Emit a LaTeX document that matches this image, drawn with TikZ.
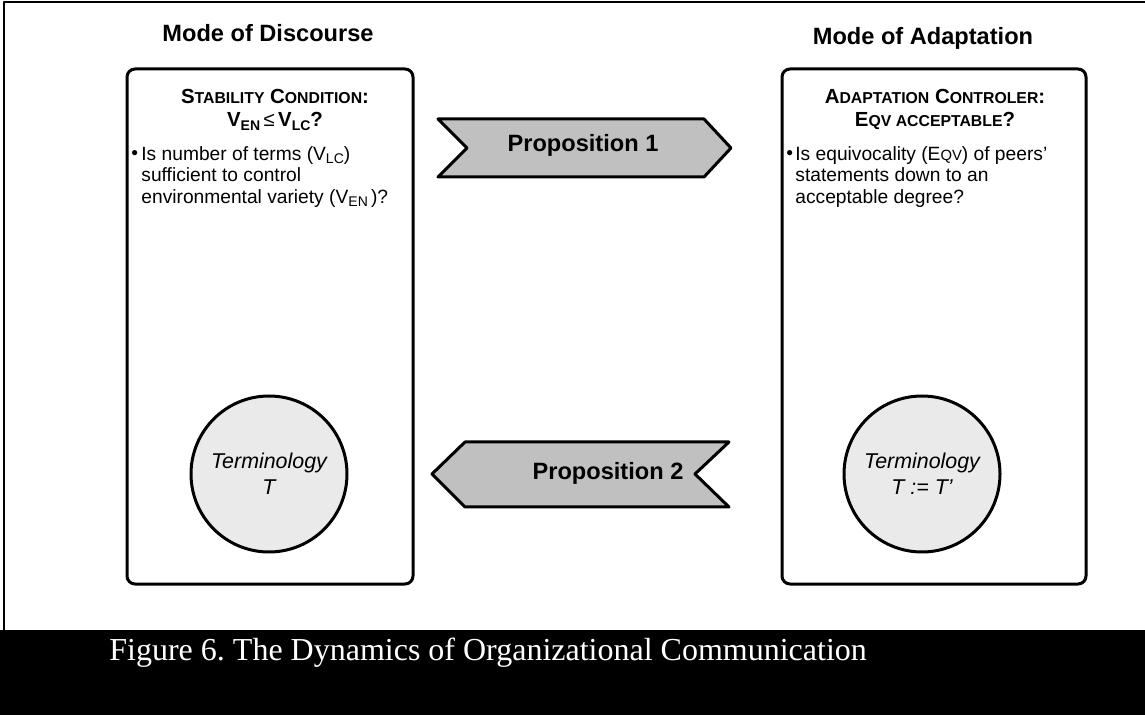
\documentclass[tikz,border=0pt]{standalone}
\usepackage{fontspec}
\setmainfont{Liberation Sans}
\newfontfamily\capfont{Liberation Serif}
\usetikzlibrary{positioning}
\definecolor{propgray}{HTML}{C0C0C0}
\definecolor{termgray}{HTML}{EAEAEA}
\newcommand{\lowidx}[1]{\raisebox{-0.35ex}{\fontsize{7}{7}\selectfont #1}}
\newcommand{\hdsc}[2]{{\fontsize{10.2}{11.5}\selectfont #1}{\fontsize{7.9}{11.5}\selectfont #2}}
\newcommand{\bodysc}[1]{{\fontsize{7.4}{10.75}\selectfont #1}}
\tikzset{modebox/.style={line width=1.5pt,rounded corners=4pt},
         propshape/.style={line width=1.5pt,fill=propgray,line join=round},
         termcircle/.style={circle,draw,line width=1.5pt,fill=termgray,minimum size=78pt,inner sep=0pt,align=center,font=\fontsize{10.7}{13}\selectfont\itshape},
         modetitle/.style={font=\fontsize{11.8}{14}\selectfont\bfseries,anchor=base},
         proplabel/.style={font=\fontsize{11.8}{14}\selectfont\bfseries,anchor=base},
         heading/.style={font=\fontsize{10.2}{11.5}\selectfont\bfseries,align=center,anchor=north,inner sep=0pt},
         bulletmark/.style={font=\fontsize{9.6}{10.75}\selectfont,anchor=base west,inner sep=0pt},
         bulletbody/.style={font=\fontsize{9.6}{10.75}\selectfont,align=left,anchor=north west,inner sep=0pt}}

\begin{document}
\begin{tikzpicture}[line cap=round,line join=round,x=0.5pt,y=-0.5pt]
\useasboundingbox (0,0) rectangle (1145,715);
\draw [line width=1pt] (4,630) -- (4,2) -- (1145,2);
\fill [black] (0,630) rectangle (1145,715);
\node[modetitle] (discoursetitle) at (268,42) {Mode of Discourse};
\node[modetitle] (adaptationtitle) at (923,45) {Mode of Adaptation};
\draw [modebox] (127,69) rectangle (413,584);
\draw [modebox] (782,69) rectangle (1086,584);
\node[heading] (stability) at (275,89) {\hdsc{S}{TABILITY} \hdsc{C}{ONDITION}:\\V\lowidx{EN}\,{\mdseries\fontsize{10.2}{11.5}\selectfont ≤}\,V\lowidx{LC}?};
\node[heading] (controler) at (935,89) {\hdsc{A}{DAPTATION} \hdsc{C}{ONTROLER}:\\\hdsc{E}{QV ACCEPTABLE}?};
\node[bulletmark] (bulletl) at (131,160) {•};
\node[bulletbody] (varietytext) at (141,146) {Is number of terms (V\lowidx{LC})\\sufficient to control\\environmental variety (V\lowidx{EN}\,)?};
\node[bulletmark] (bulletr) at (786,160) {•};
\node[bulletbody] (equivtext) at (795,146) {Is equivocality (E\bodysc{QV}) of peers’\\statements down to an\\acceptable degree?};
\draw [propshape] (438,119) -- (704,119) -- (731,148) -- (704,177) -- (438,177) -- (467,148) -- cycle;
\node[proplabel] (prop1) at (583,152) {Proposition 1};
\draw [propshape] (465,442) -- (729,442) -- (695,474) -- (729,507) -- (465,507) -- (432,474) -- cycle;
\node[proplabel] (prop2) at (608,480) {Proposition 2};
\node[termcircle] (termold) at (269,474) {Terminology\\T};
\node[termcircle] (termnew) at (922,474) {Terminology\\T := T’};
\node[anchor=base west,inner sep=0pt,text=white,font=\capfont\fontsize{16}{18}\selectfont\frenchspacing] (caption) at (109,660) {Figure 6. The Dynamics of Organizational Communication};
\end{tikzpicture}
\end{document}
